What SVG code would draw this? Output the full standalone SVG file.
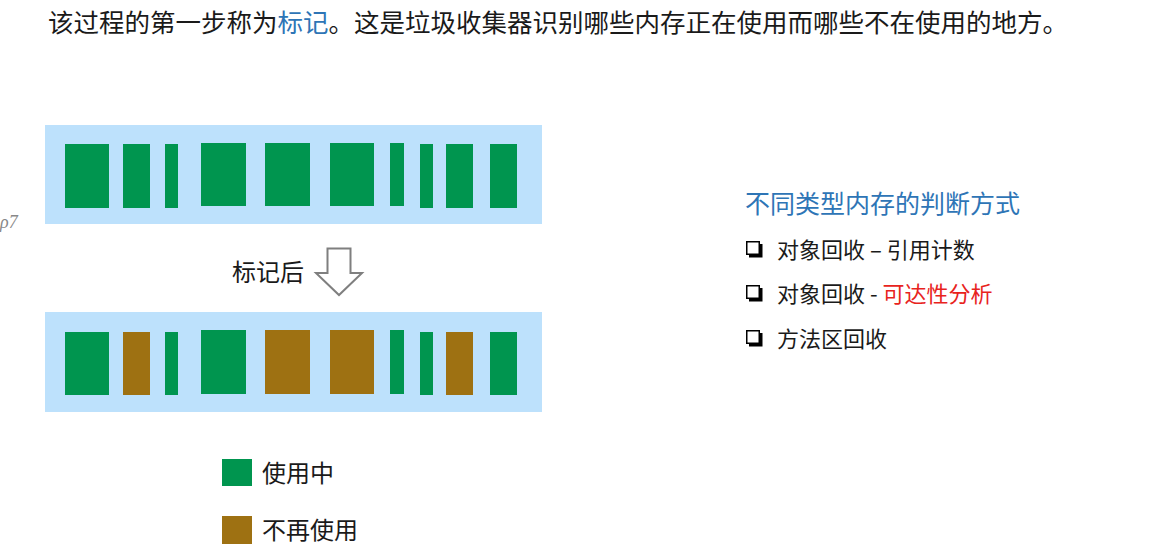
<svg xmlns="http://www.w3.org/2000/svg" width="1149" height="560" viewBox="0 0 1149 560">
  <style>
    .t { font-family: "Noto Sans CJK SC", "Noto Sans", sans-serif; fill: #1a1a1a; }
    .panel { fill: #BDE1FC; }
    .g { fill: #00954F; }
    .b { fill: #9E7112; }
    .blue { fill: #2E75B6; }
    .red { fill: #E8231D; }
  </style>
  <defs>
    <g id="bullet">
      <rect x="3" y="3" width="13.5" height="13.5" fill="#000"/>
      <rect x="0.75" y="0.75" width="12.5" height="12.5" fill="#fff" stroke="#000" stroke-width="1.5"/>
    </g>
  </defs>
  <rect width="1149" height="560" fill="#ffffff"/>

  <g id="title">
    <text class="t" x="48" y="32" font-size="25.5">该过程的第一步称为<tspan class="blue">标记</tspan>。这是垃圾收集器识别哪些内存正在使用而哪些不在使用的地方。</text>
  </g>

  <g id="stray">
    <text x="0" y="228" font-family="Liberation Serif, serif" font-style="italic" font-size="18" fill="#888">ρ7</text>
  </g>

  <g id="before">
    <rect class="panel" x="45" y="125" width="497" height="99"/>
    <rect class="g" x="65" y="144" width="44" height="64"/>
    <rect class="g" x="123" y="144" width="27" height="64"/>
    <rect class="g" x="165" y="144" width="13" height="64"/>
    <rect class="g" x="201" y="143" width="45" height="63"/>
    <rect class="g" x="265" y="143" width="45" height="63"/>
    <rect class="g" x="330" y="143" width="44" height="63"/>
    <rect class="g" x="390" y="143" width="14" height="63"/>
    <rect class="g" x="420" y="144" width="13" height="64"/>
    <rect class="g" x="446" y="144" width="27" height="64"/>
    <rect class="g" x="490" y="144" width="27" height="64"/>
  </g>

  <g id="arrow-label">
    <text class="t" x="232" y="281" font-size="24">标记后</text>
  </g>

  <g id="connectors">
    <path d="M327.5 248.5 H350.5 V273 H362 L339 295 L316 273 H327.5 Z" fill="#fff" stroke="#7f7f7f" stroke-width="2" stroke-linejoin="miter"/>
  </g>

  <g id="after">
    <rect class="panel" x="45" y="312" width="497" height="100"/>
    <rect class="g" x="65" y="332" width="44" height="63"/>
    <rect class="b" x="123" y="332" width="27" height="63"/>
    <rect class="g" x="165" y="332" width="13" height="63"/>
    <rect class="g" x="201" y="330" width="45" height="64"/>
    <rect class="b" x="265" y="330" width="45" height="64"/>
    <rect class="b" x="330" y="330" width="44" height="64"/>
    <rect class="g" x="390" y="330" width="14" height="64"/>
    <rect class="g" x="420" y="332" width="13" height="63"/>
    <rect class="b" x="446" y="332" width="27" height="63"/>
    <rect class="g" x="490" y="332" width="27" height="63"/>
  </g>

  <g id="legend">
    <rect class="g" x="222" y="459" width="30" height="27"/>
    <text class="t" x="262" y="482" font-size="24">使用中</text>
    <rect class="b" x="222" y="516" width="30" height="28"/>
    <text class="t" x="262" y="539" font-size="24">不再使用</text>
  </g>

  <g id="methods">
    <text class="t blue" x="745" y="213" font-size="25">不同类型内存的判断方式</text>
    <use href="#bullet" x="746" y="241"/>
    <text class="t" x="777" y="258" font-size="22">对象回收 – 引用计数</text>
    <use href="#bullet" x="746" y="285"/>
    <text class="t" x="777" y="302" font-size="22">对象回收 - <tspan class="red">可达性分析</tspan></text>
    <use href="#bullet" x="746" y="330"/>
    <text class="t" x="777" y="347" font-size="22">方法区回收</text>
  </g>
</svg>
